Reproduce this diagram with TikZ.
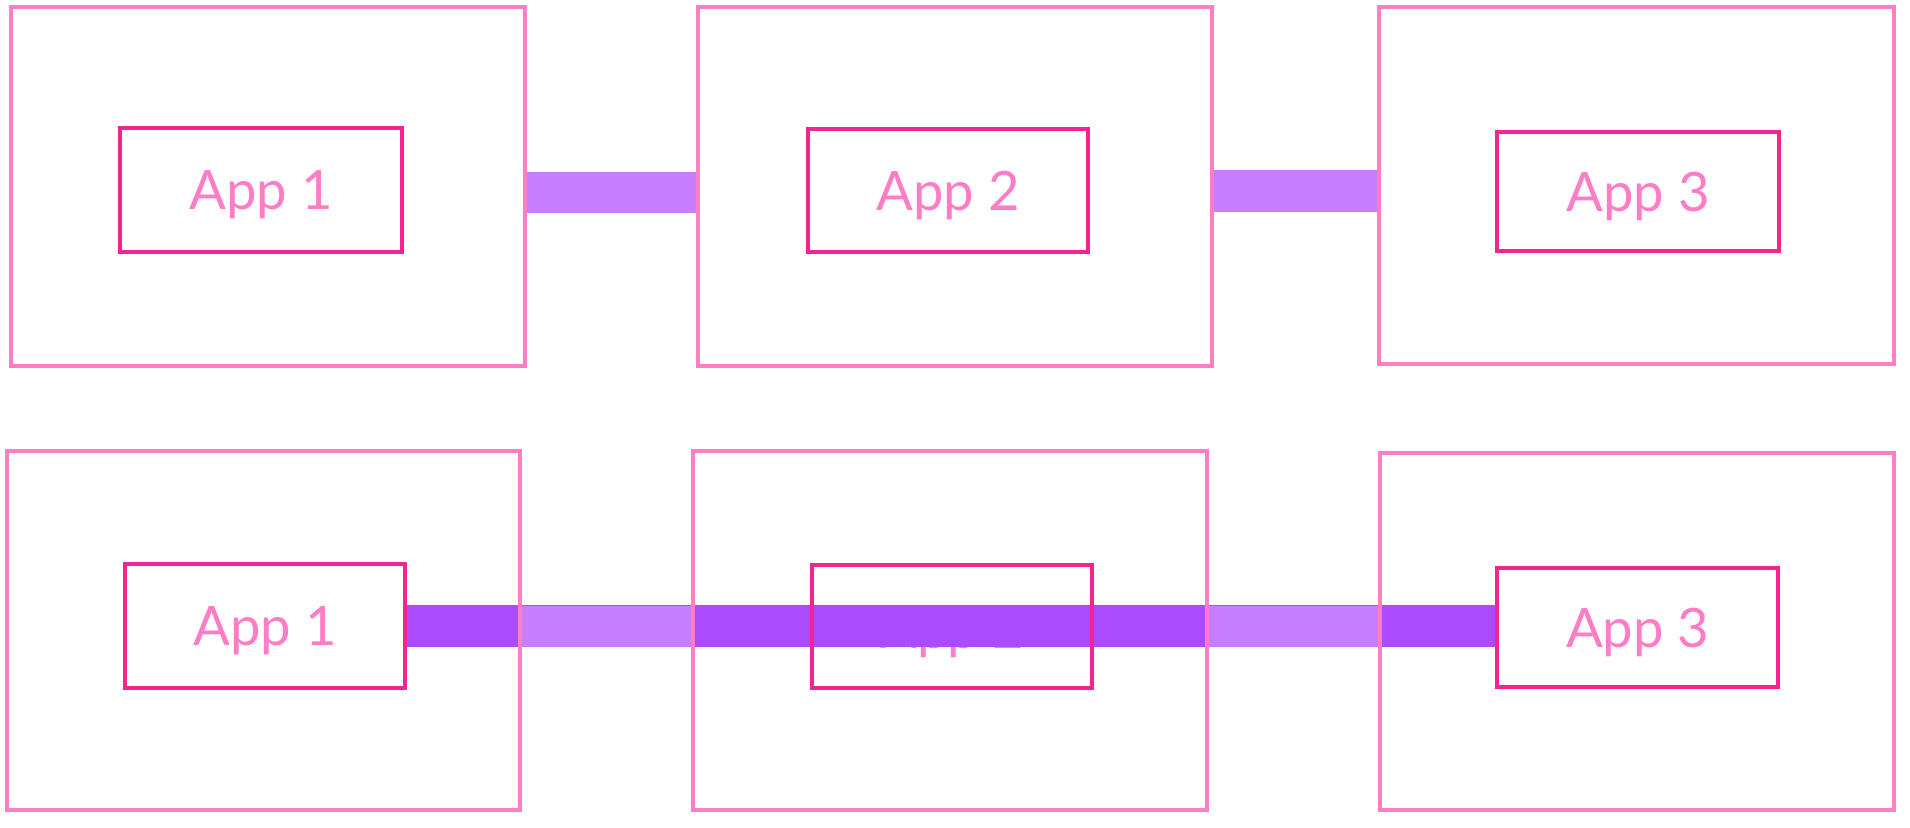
\documentclass[tikz,border=0pt]{standalone}
\usepackage{fontspec}
\setmainfont{Lato}
\definecolor{outerc}{HTML}{FF7DC5}
\definecolor{innerc}{HTML}{F52491}
\definecolor{textc}{HTML}{FF7DC5}
\definecolor{lightbarc}{HTML}{C77DFF}
\definecolor{darkbarc}{HTML}{AC4AFF}
\tikzset{
  outerbox/.style={inner sep=0pt, minimum width=385.5pt, minimum height=269.25pt},
  innerbox/.style={inner sep=0pt, text=textc, text depth=0pt,
     font=\fontsize{40.8pt}{48pt}\selectfont, minimum width=210pt, minimum height=93pt},
  lightbar/.style={draw=lightbarc, line width=31pt},
  darkbar/.style={draw=darkbarc, line width=31.5pt},
  outerline/.style={draw=outerc, line width=2.8pt},
  innerline/.style={draw=innerc, line width=3pt}
}
\begin{document}
\begin{tikzpicture}[x=0.75pt,y=-0.75pt]
\useasboundingbox (0,0) rectangle (1910,828);
% top row
\node[outerbox] (o1) at (268,186.5) {};
\node[outerbox] (o2) at (955,186.5) {};
\node[outerbox, minimum width=386.25pt, minimum height=267.75pt] (o3) at (1636.5,185.5) {};
\node[innerbox, minimum width=211.1pt] (i1) at (261.25,190) {App 1};
\node[innerbox, minimum height=92.25pt] (i2) at (948,190.5) {App 2};
\node[innerbox, minimum width=211.5pt, minimum height=89.25pt] (i3) at (1638,191.5) {App 3};
\coordinate (b1) at (0,192.5);
\coordinate (b2) at (0,191);
\draw[lightbar] (o1.east |- b1) -- (o2.west |- b1);
\draw[lightbar] (o2.east |- b2) -- (o3.west |- b2);
\draw[outerline] (o1.south west) rectangle (o1.north east);
\draw[outerline] (o2.south west) rectangle (o2.north east);
\draw[outerline] (o3.south west) rectangle (o3.north east);
\draw[innerline] (i1.south west) rectangle (i1.north east);
\draw[innerline] (i2.south west) rectangle (i2.north east);
\draw[innerline] (i3.south west) rectangle (i3.north east);
% bottom row
\node[outerbox, minimum width=384.75pt] (o4) at (263.5,630.5) {};
\node[outerbox] (o5) at (950,630.5) {};
\node[outerbox, minimum height=267.75pt] (o6) at (1637,631.5) {};
\node[innerbox] (i4) at (265,626) {App 1};
\node[innerbox, minimum height=92.25pt] (i5) at (952,628.5) {App 2};
\node[innerbox, minimum width=210.4pt, minimum height=89.25pt] (i6) at (1637.75,627.5) {App 3};
\coordinate (b3) at (0,626);
\coordinate (b4) at (0,626.5);
\draw[darkbar] (i4.east |- b3) -- (i6.west |- b3);
\draw[lightbar] (o4.east |- b4) -- (o5.west |- b4);
\draw[lightbar] (o5.east |- b4) -- (o6.west |- b4);
\draw[outerline] (o4.south west) rectangle (o4.north east);
\draw[outerline] (o5.south west) rectangle (o5.north east);
\draw[outerline] (o6.south west) rectangle (o6.north east);
\draw[innerline] (i4.south west) rectangle (i4.north east);
\draw[innerline] ([yshift=1.5pt]i5.south west) rectangle ([yshift=1.5pt]i5.north east);
\draw[innerline] (i6.south west) rectangle (i6.north east);
\end{tikzpicture}
\end{document}
